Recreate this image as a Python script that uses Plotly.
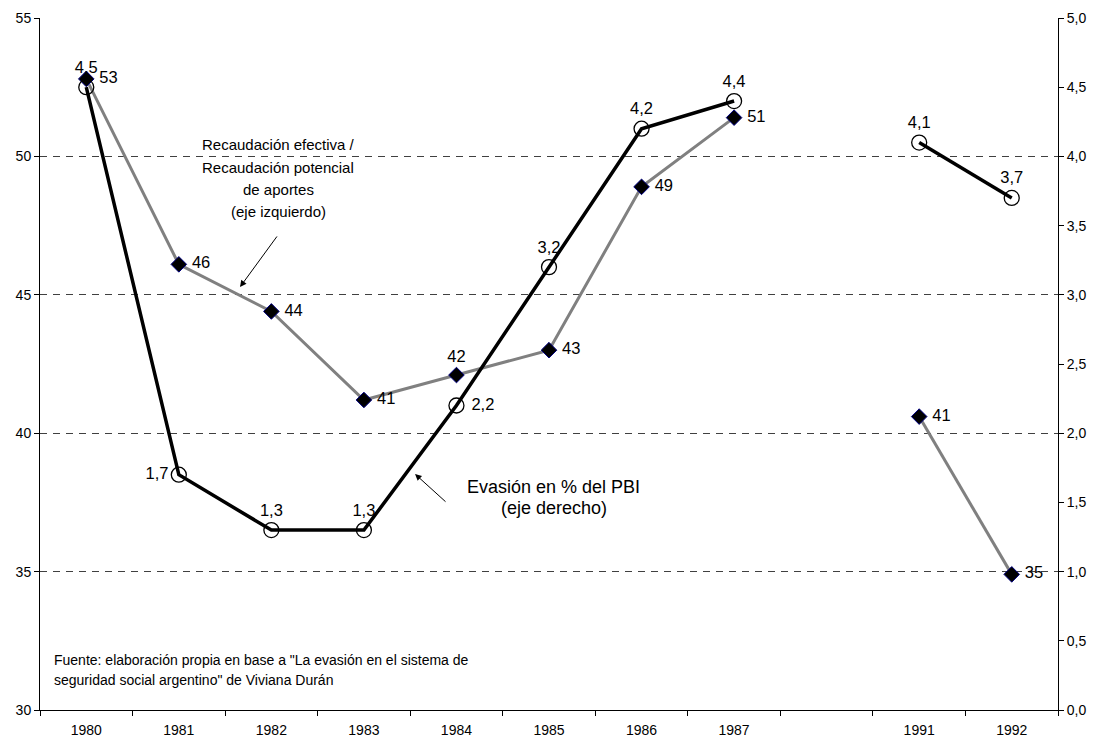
import plotly.graph_objects as go

# Years on the category axis; the blank slot separates 1987 from 1991
years = ["1980", "1981", "1982", "1983", "1984", "1985", "1986", "1987", " ", "1991", "1992"]

# Recaudación efectiva / potencial de aportes (%), left axis
recaudacion = [52.8, 46.1, 44.4, 41.2, 42.1, 43.0, 48.9, 51.4, None, 40.6, 34.9]

# Evasión en % del PBI, right axis
evasion = [4.5, 1.7, 1.3, 1.3, 2.2, 3.2, 4.2, 4.4, None, 4.1, 3.7]

left_ticks = [30, 35, 40, 45, 50, 55]
grid_vals = [35, 40, 45, 50]

FONT = "Liberation Sans, Arial, sans-serif"
NB = "\u00a0"

# Label placement per point
rec_pos = ["middle right"] * len(years)
rec_pos[4] = "top center"
rec_tpl = [NB + "%{y:.0f}" if p == "middle right" else "%{y:.0f}" for p in rec_pos]

eva_pos = ["top center"] * len(years)
eva_pos[1] = "middle left"
eva_pos[4] = "middle right"
eva_tpl = [NB + "%{y:.1f}" if p == "middle right" else "%{y:.1f}" for p in eva_pos]

fig = go.Figure()

fig.add_trace(go.Scatter(
    x=years, y=recaudacion, mode="lines+markers+text",
    line=dict(color="#808080", width=3),
    marker=dict(symbol="diamond", size=12, color="black",
                line=dict(color="#000080", width=1)),
    texttemplate=rec_tpl, textposition=rec_pos,
    textfont=dict(family=FONT, size=16.5, color="black"),
    connectgaps=False, cliponaxis=False, showlegend=False,
))

fig.add_trace(go.Scatter(
    x=years, y=evasion, yaxis="y2", mode="lines+markers+text",
    line=dict(color="black", width=3.5),
    marker=dict(symbol="circle-open", size=15, color="black",
                line=dict(color="black", width=1.3)),
    texttemplate=eva_tpl, textposition=eva_pos,
    textfont=dict(family=FONT, size=16.5, color="black"),
    connectgaps=False, cliponaxis=False, showlegend=False,
))

annotations = []

# Series captions, one annotation per line
rec_lines = ["Recaudación efectiva /", "Recaudación potencial", "de aportes", "(eje izquierdo)"]
for i, t in enumerate(rec_lines):
    annotations.append(dict(
        text=t, xref="paper", yref="paper", x=0.2338, y=0.8165 - i * 0.0322,
        xanchor="center", yanchor="middle", showarrow=False,
        font=dict(family=FONT, size=15, color="black"),
    ))

eva_lines = ["Evasión en % del PBI", "(eje derecho)"]
for i, t in enumerate(eva_lines):
    annotations.append(dict(
        text=t, xref="paper", yref="paper", x=0.5049, y=0.3223 - i * 0.0304,
        xanchor="center", yanchor="middle", showarrow=False,
        font=dict(family=FONT, size=18, color="black"),
    ))

# Pointer arrows
annotations.append(dict(
    text="", xref="paper", yref="paper", x=0.1965, y=0.6113,
    showarrow=True, ax=38, ay=-52, arrowhead=2, arrowsize=1.3,
    arrowwidth=1, arrowcolor="black",
))
annotations.append(dict(
    text="", xref="paper", yref="paper", x=0.3684, y=0.3410,
    showarrow=True, ax=32, ay=29, arrowhead=2, arrowsize=1.3,
    arrowwidth=1, arrowcolor="black",
))

# Source note
src_lines = ['Fuente: elaboración propia en base a "La evasión en el sistema de',
             'seguridad social argentino" de Viviana Durán']
for i, t in enumerate(src_lines):
    annotations.append(dict(
        text=t, xref="paper", yref="paper", x=0.0118, y=0.0723 - i * 0.0289,
        xanchor="left", yanchor="middle", showarrow=False,
        font=dict(family=FONT, size=14, color="black"),
    ))

fig.update_layout(
    width=1094, height=738,
    margin=dict(l=40, r=36, t=18, b=28),
    paper_bgcolor="white", plot_bgcolor="white",
    separators=",.",
    font=dict(family=FONT, size=14, color="black"),
    annotations=annotations,
    xaxis=dict(
        type="category", categoryorder="array", categoryarray=years,
        range=[-0.5, len(years) - 0.5], tickson="boundaries",
        showline=True, linecolor="black", linewidth=1,
        ticks="outside", ticklen=5, tickcolor="black",
        ticklabelstandoff=7, automargin=False,
        showgrid=False, zeroline=False,
        tickfont=dict(family=FONT, size=14, color="black"),
    ),
    yaxis=dict(
        range=[30, 55], tickmode="array", tickvals=left_ticks,
        showline=True, linecolor="black", linewidth=1,
        ticks="outside", ticklen=5, tickcolor="black",
        showgrid=False, zeroline=False, automargin=False,
        minor=dict(tickmode="array", tickvals=grid_vals, showgrid=True,
                   gridcolor="#404040", griddash="7px,6px", gridwidth=1,
                   ticks=""),
        tickfont=dict(family=FONT, size=14, color="black"),
    ),
    yaxis2=dict(
        overlaying="y", side="right", range=[0, 5], dtick=0.5, tick0=0,
        tickformat=".1f",
        showline=True, linecolor="black", linewidth=1,
        ticks="outside", ticklen=5, tickcolor="black",
        showgrid=False, zeroline=False, automargin=False,
        tickfont=dict(family=FONT, size=14, color="black"),
    ),
)

fig.write_html("out.html")
